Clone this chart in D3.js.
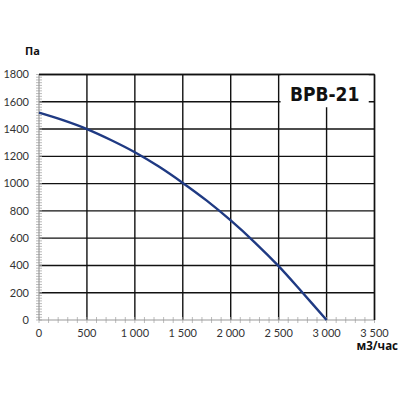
<!DOCTYPE html>
<html>
<head>
<meta charset="utf-8">
<script src="https://cdn.jsdelivr.net/npm/d3@7"></script>
<style>
  body { margin: 0; background: #fff; }
  svg { display: block; }
</style>
</head>
<body>
<svg id="chart" width="400" height="400"></svg>
<script>
// Flow (m3/h) vs pressure (Pa) curve
const flow     = [0, 250, 500, 750, 1000, 1250, 1500, 1750, 2000, 2250, 2500, 2750, 3000];
const pressure = [1520, 1465, 1400, 1320, 1230, 1125, 1005, 875, 730, 570, 395, 200, 0];

const xTicks = [0, 500, 1000, 1500, 2000, 2500, 3000, 3500];
const yTicks = [0, 200, 400, 600, 800, 1000, 1200, 1400, 1600, 1800];

const title = "BPB-21";
const yUnit = "Па";
const xUnit = "м3/час";

const width = 400, height = 400;
const margin = { top: 74.5, right: 25.5, bottom: 80, left: 39 };
const innerWidth = width - margin.left - margin.right;
const innerHeight = height - margin.top - margin.bottom;

const svg = d3.select("#chart");
const g = svg.append("g")
  .attr("transform", `translate(${margin.left}, ${margin.top})`);

const x = d3.scaleLinear().domain([0, 3500]).range([0, innerWidth]);
const y = d3.scaleLinear().domain([0, 1800]).range([innerHeight, 0]);

const fmt = v => d3.format(",")(v).replace(/,/g, " ");
const labelFont = "Lato, 'Open Sans', sans-serif";

// grid lines (black)
g.append("g")
  .selectAll("line")
  .data(yTicks.filter(d => d > 0))
  .enter().append("line")
  .attr("x1", 0).attr("x2", innerWidth)
  .attr("y1", d => y(d)).attr("y2", d => y(d))
  .attr("stroke", "#111").attr("stroke-width", 1.4);

g.append("g")
  .selectAll("line")
  .data(xTicks.filter(d => d > 0))
  .enter().append("line")
  .attr("x1", d => x(d)).attr("x2", d => x(d))
  .attr("y1", 0).attr("y2", innerHeight)
  .attr("stroke", "#111").attr("stroke-width", 1.4);

// minor ticks on the axes (gray, crossing the axis line)
const yMinor = d3.range(0, 1801, 20);
const xMinor = d3.range(0, 3501, 100);

g.append("g")
  .selectAll("line")
  .data(yMinor)
  .enter().append("line")
  .attr("x1", -3).attr("x2", 3)
  .attr("y1", d => y(d)).attr("y2", d => y(d))
  .attr("stroke", "#aaa").attr("stroke-width", 0.8);

g.append("g")
  .selectAll("line")
  .data(xMinor)
  .enter().append("line")
  .attr("x1", d => x(d)).attr("x2", d => x(d))
  .attr("y1", innerHeight - 3).attr("y2", innerHeight + 3)
  .attr("stroke", "#aaa").attr("stroke-width", 0.8);

// axis lines
g.append("line")
  .attr("x1", 0).attr("x2", 0).attr("y1", 0).attr("y2", innerHeight)
  .attr("stroke", "#999").attr("stroke-width", 1.2);
g.append("line")
  .attr("x1", 0).attr("x2", innerWidth).attr("y1", innerHeight).attr("y2", innerHeight)
  .attr("stroke", "#999").attr("stroke-width", 1.2);

// white box behind the model name
g.append("rect")
  .attr("x", x(2520)).attr("y", 0)
  .attr("width", x(3440) - x(2520)).attr("height", y(1560))
  .attr("fill", "#fff");

g.append("text")
  .attr("x", (x(2520) + x(3440)) / 2)
  .attr("y", y(1600) - 1)
  .attr("text-anchor", "middle")
  .attr("font-family", "'DejaVu Sans Condensed', 'DejaVu Sans', sans-serif")
  .attr("font-weight", "bold")
  .attr("font-size", 19)
  .attr("fill", "#111")
  .text(title);

// frame top/right
g.append("line")
  .attr("x1", 0).attr("x2", innerWidth).attr("y1", 0).attr("y2", 0)
  .attr("stroke", "#111").attr("stroke-width", 1.4);
g.append("line")
  .attr("x1", innerWidth).attr("x2", innerWidth).attr("y1", 0).attr("y2", innerHeight)
  .attr("stroke", "#111").attr("stroke-width", 1.4);

// curve
const line = d3.line()
  .x((d, i) => x(flow[i]))
  .y(d => y(d))
  .curve(d3.curveCatmullRom);

g.append("path")
  .datum(pressure)
  .attr("d", line)
  .attr("fill", "none")
  .attr("stroke", "#1f3a83")
  .attr("stroke-width", 2.4);

// tick labels
g.append("g")
  .selectAll("text")
  .data(yTicks)
  .enter().append("text")
  .attr("x", -10)
  .attr("y", d => y(d))
  .attr("dy", "0.35em")
  .attr("text-anchor", "end")
  .attr("font-family", labelFont)
  .attr("font-size", 11)
  .attr("fill", "#333")
  .text(d => d);

g.append("g")
  .selectAll("text")
  .data(xTicks)
  .enter().append("text")
  .attr("x", d => x(d))
  .attr("y", innerHeight + 17)
  .attr("text-anchor", "middle")
  .attr("font-family", labelFont)
  .attr("font-size", 11)
  .attr("fill", "#333")
  .text(d => fmt(d));

// units
svg.append("text")
  .attr("x", 25).attr("y", 55)
  .attr("font-family", "'Open Sans', sans-serif")
  .attr("font-weight", "bold")
  .attr("font-size", 11)
  .attr("fill", "#111")
  .text(yUnit);

svg.append("text")
  .attr("x", 398).attr("y", 350)
  .attr("text-anchor", "end")
  .attr("font-family", "'Open Sans', sans-serif")
  .attr("font-weight", "bold")
  .attr("font-size", 11.5)
  .attr("fill", "#111")
  .text(xUnit);
</script>
</body>
</html>
